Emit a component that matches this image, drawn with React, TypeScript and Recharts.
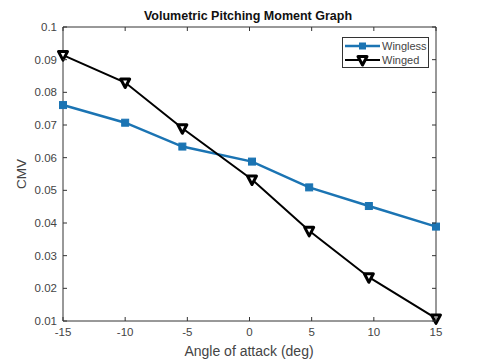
import React from 'react';
import { LineChart, Line, XAxis, YAxis } from 'recharts';

// angle of attack (deg)
const angles = [-15, -10, -5.4, 0.2, 4.8, 9.6, 15];
// CMV values
const wingless = [0.0761, 0.0707, 0.0634, 0.0588, 0.0509, 0.0452, 0.0389];
const winged = [0.0914, 0.083, 0.069, 0.0533, 0.0376, 0.0234, 0.0108];

const xTicks = [-15, -10, -5, 0, 5, 10, 15];
const yTicks = [0.01, 0.02, 0.03, 0.04, 0.05, 0.06, 0.07, 0.08, 0.09, 0.1];

const data = angles.map((a, i) => ({ angle: a, wingless: wingless[i], winged: winged[i] }));

const BLUE = '#1b74b3';
const AXIS = '#333';
const TXT = '#444';
const FONT = '"Liberation Sans", Arial, sans-serif';
const TICK_LEN = 4;

const fmtY = (v: number) => String(+v.toFixed(2));

const BottomTick = (props: any) => {
  const { x, y, payload } = props;
  return (
    <g>
      <line x1={x} y1={y} x2={x} y2={y - TICK_LEN} stroke={AXIS} strokeWidth={1} />
      <text x={x} y={y + 15} textAnchor="middle" fontSize={11.5} fill={TXT} fontFamily={FONT}>
        {payload.value}
      </text>
    </g>
  );
};

const LeftTick = (props: any) => {
  const { x, y, payload } = props;
  return (
    <g>
      <line x1={x} y1={y} x2={x + TICK_LEN} y2={y} stroke={AXIS} strokeWidth={1} />
      <text x={x - 6} y={y + 4} textAnchor="end" fontSize={11.5} fill={TXT} fontFamily={FONT}>
        {fmtY(payload.value)}
      </text>
    </g>
  );
};

const TopTick = (props: any) => {
  const { x, y } = props;
  return <line x1={x} y1={y} x2={x} y2={y + TICK_LEN} stroke={AXIS} strokeWidth={1} />;
};

const RightTick = (props: any) => {
  const { x, y } = props;
  return <line x1={x} y1={y} x2={x - TICK_LEN} y2={y} stroke={AXIS} strokeWidth={1} />;
};

const SquareDot = (props: any) => {
  const { cx, cy, index } = props;
  return <rect key={'s' + index} x={cx - 3.5} y={cy - 3.5} width={7} height={7} fill={BLUE} stroke={BLUE} />;
};

const TriDot = (props: any) => {
  const { cx, cy, index } = props;
  return (
    <path
      key={'t' + index}
      d={`M${cx - 4.5},${cy - 3.5} L${cx + 4.5},${cy - 3.5} L${cx},${cy + 5} Z`}
      fill="#fff"
      stroke="#000"
      strokeWidth={3}
      strokeLinejoin="round"
    />
  );
};

const LegendBox = () => (
  <svg width={88} height={31} style={{ display: 'block' }}>
    <rect x={0.5} y={0.5} width={86} height={30} fill="#fff" stroke="#333" />
    <line x1={3} y1={9} x2={38} y2={9} stroke={BLUE} strokeWidth={2.5} />
    <rect x={17} y={5.5} width={7} height={7} fill={BLUE} />
    <text x={40} y={13} fontSize={11} fill={TXT} fontFamily={FONT}>Wingless</text>
    <line x1={3} y1={23} x2={38} y2={23} stroke="#000" strokeWidth={2} />
    <path d="M16,19.5 L25,19.5 L20.5,28 Z" fill="#fff" stroke="#000" strokeWidth={3} strokeLinejoin="round" />
    <text x={40} y={27} fontSize={11} fill={TXT} fontFamily={FONT}>Winged</text>
  </svg>
);

export default function App() {
  return (
    <div style={{ position: 'relative', width: 480, height: 360, background: '#fff' }}>
      <style>{'body{margin:0}'}</style>
      <LineChart
        width={480}
        height={360}
        data={data}
        margin={{ top: 26, right: 43, bottom: 9, left: 3 }}
      >
        <XAxis
          dataKey="angle"
          type="number"
          domain={[-15, 15]}
          ticks={xTicks}
          height={30}
          tickSize={0}
          tickMargin={0}
          tickLine={false}
          tick={BottomTick}
          axisLine={{ stroke: AXIS }}
        />
        <XAxis
          xAxisId="top"
          orientation="top"
          dataKey="angle"
          type="number"
          domain={[-15, 15]}
          ticks={xTicks}
          height={1}
          tickSize={0}
          tickMargin={0}
          tickLine={false}
          tick={TopTick}
          axisLine={{ stroke: AXIS }}
        />
        <YAxis
          type="number"
          domain={[0.01, 0.1]}
          ticks={yTicks}
          width={60}
          tickSize={0}
          tickMargin={0}
          tickLine={false}
          tick={LeftTick}
          axisLine={{ stroke: AXIS }}
        />
        <YAxis
          yAxisId="right"
          orientation="right"
          type="number"
          domain={[0.01, 0.1]}
          ticks={yTicks}
          width={1}
          tickSize={0}
          tickMargin={0}
          tickLine={false}
          tick={RightTick}
          axisLine={{ stroke: AXIS }}
        />
        <Line
          dataKey="wingless"
          stroke={BLUE}
          strokeWidth={2.5}
          dot={SquareDot}
          activeDot={false}
          isAnimationActive={false}
        />
        <Line
          xAxisId="top"
          yAxisId="right"
          dataKey="winged"
          stroke="#000"
          strokeWidth={2}
          dot={TriDot}
          activeDot={false}
          isAnimationActive={false}
        />
        <text x={248} y={20} textAnchor="middle" fontSize={12.5} fontWeight="bold" fill="#111" fontFamily={FONT}>
          Volumetric Pitching Moment Graph
        </text>
        <text
          x={26}
          y={174}
          textAnchor="middle"
          fontSize={13.5}
          fill={TXT}
          fontFamily={FONT}
          transform="rotate(-90 26 174)"
        >
          CMV
        </text>
        <text x={249} y={356} textAnchor="middle" fontSize={14} fill={TXT} fontFamily={FONT}>
          Angle of attack (deg)
        </text>
      </LineChart>
      <div style={{ position: 'absolute', left: 342, top: 37 }}>
        <LegendBox />
      </div>
    </div>
  );
}
